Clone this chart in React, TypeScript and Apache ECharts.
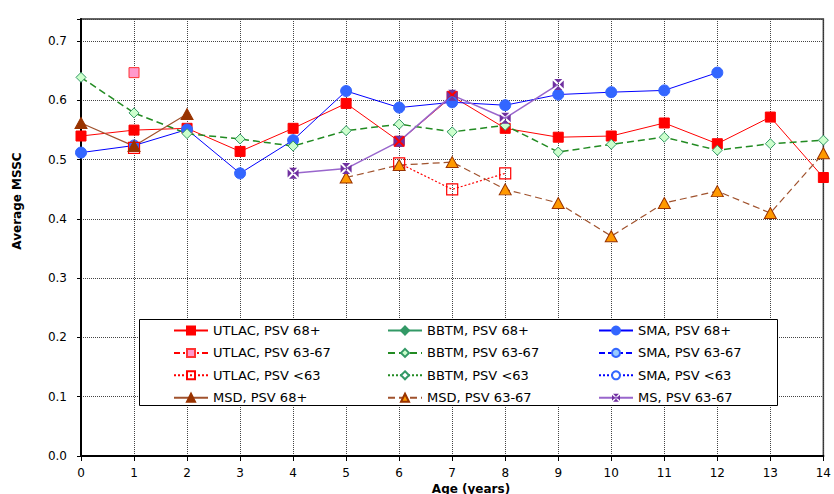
import React, { useEffect, useRef } from "react";
import * as echarts from "echarts";

const ages = [0, 1, 2, 3, 4, 5, 6, 7, 8, 9, 10, 11, 12, 13, 14];
const yTicks = ["0.0", "0.1", "0.2", "0.3", "0.4", "0.5", "0.6", "0.7"];

const utlac68 = [0.540, 0.550, 0.553, 0.514, 0.553, 0.595, 0.531, 0.607, 0.553, 0.538, 0.540, 0.562, 0.527, 0.572, 0.470];
const utlac6367 = [null, 0.647, null, null, null, null, null, null, null, null, null, null, null, null, null];
const utlacLt63 = [null, 0.520, null, null, null, null, 0.494, 0.450, 0.477, null, null, null, null, null, null];
const bbtm68: (number | null)[] = [];
const bbtm6367 = [0.639, 0.579, 0.544, 0.535, 0.523, 0.549, 0.560, 0.547, 0.558, 0.513, 0.526, 0.538, 0.516, 0.527, 0.533];
const bbtmLt63: (number | null)[] = [];
const sma68 = [0.512, 0.524, 0.551, 0.477, 0.533, 0.616, 0.588, 0.597, 0.592, 0.610, 0.614, 0.617, 0.647, null, null];
const sma6367: (number | null)[] = [];
const smaLt63: (number | null)[] = [];
const msd68 = [0.562, 0.523, 0.577, null, null, null, null, null, null, null, null, null, null, null, null];
const msd6367 = [null, null, null, null, null, 0.470, 0.491, 0.496, 0.450, 0.427, 0.371, 0.427, 0.447, 0.410, 0.511];
const ms6367 = [null, null, null, null, 0.477, 0.485, 0.531, 0.609, 0.570, 0.627, null, null, null, null, null];

const FONT = "DejaVu Sans";
const X_SQUARE = "path://M1.3,0L8.7,0L5,3.7Z M10,1.3L10,8.7L6.3,5Z M8.7,10L1.3,10L5,6.3Z M0,8.7L0,1.3L3.7,5Z";

function pairs(vals: (number | null)[]) {
  return ages.map((a, i) => [a, vals[i] === undefined ? null : vals[i]]);
}

function mk(
  name: string,
  vals: (number | null)[],
  symbol: string,
  size: number | number[],
  lineColor: string,
  lineType: any,
  lineWidth: number,
  fill: string,
  border: string,
  borderWidth = 1
) {
  return {
    name,
    type: "line",
    data: pairs(vals),
    symbol,
    symbolSize: size,
    showAllSymbol: true,
    connectNulls: false,
    lineStyle: { color: lineColor, type: lineType, width: lineWidth },
    itemStyle: { color: fill, borderColor: border, borderWidth },
    emphasis: { disabled: true },
  };
}

export default function App() {
  const ref = useRef<HTMLDivElement>(null);
  useEffect(() => {
    if (!ref.current) return;
    const chart = echarts.init(ref.current, null, { renderer: "svg" });
    const series = [
      mk("UTLAC, PSV 68+", utlac68, "rect", 10, "#FF0000", "solid", 1, "#FF0000", "#FF0000"),
      mk("BBTM, PSV 68+", bbtm68, "diamond", 10, "#339966", "solid", 1.5, "#339966", "#339966"),
      mk("SMA, PSV 68+", sma68, "circle", 11, "#0000FF", "solid", 1, "#3366FF", "#3366FF"),
      mk("UTLAC, PSV 63-67", utlac6367, "rect", 10, "#FF0000", [6, 3, 2, 3], 1, "#FF99CC", "#FF3333"),
      mk("BBTM, PSV 63-67", bbtm6367, "diamond", 10, "#228B22", [7, 4], 1.5, "#CCFFCC", "#339966"),
      mk("SMA, PSV 63-67", sma6367, "circle", 11, "#0000FF", [6, 3], 1, "#99CCFF", "#3366FF"),
      mk("UTLAC, PSV <63", utlacLt63, "rect", 11, "#FF0000", [2, 2], 1.2, "rgba(255,255,255,0)", "#FF0000", 1.2),
      mk("BBTM, PSV <63", bbtmLt63, "diamond", 9, "#228B22", [2, 2], 1, "#FFFFFF", "#339966"),
      mk("SMA, PSV <63", smaLt63, "circle", 9, "#0000FF", [2, 2], 1, "#FFFFFF", "#3366FF"),
      mk("MSD, PSV 68+", msd68, "triangle", [12, 11], "#A0522D", "solid", 1.2, "#993300", "#993300"),
      mk("MSD, PSV 63-67", msd6367, "triangle", [12, 11], "#A0522D", [7, 4], 1.2, "#FF9900", "#993300"),
      mk("MS, PSV 63-67", ms6367, X_SQUARE, 11, "#9966CC", "solid", 1.5, "#7030A0", "#7030A0", 0),
    ];
    const col = (i: number) => series.filter((_, k) => k % 3 === i).map((s) => s.name);
    const legendBase = {
      orient: "vertical",
      top: 319,
      itemWidth: 34,
      itemHeight: 10,
      itemGap: 9.4,
      textStyle: { fontFamily: FONT, fontSize: 13, color: "#000" },
      selectedMode: false,
      z: 6,
    };
    chart.setOption({
      animation: false,
      backgroundColor: "#fff",
      textStyle: { fontFamily: FONT },
      grid: {
        left: 81,
        right: 6,
        top: 19,
        bottom: 38,
        show: true,
        borderColor: "#333",
        borderWidth: 1.5,
        backgroundColor: "transparent",
      },
      legend: [
        { ...legendBase, left: 168, data: col(0) },
        { ...legendBase, left: 382, data: col(1) },
        { ...legendBase, left: 593, data: col(2) },
      ],
      xAxis: {
        type: "value",
        min: 0,
        max: 14,
        interval: 1,
        axisLine: { show: true, onZero: false, lineStyle: { color: "#000", width: 2 } },
        axisTick: { show: true, length: 5, lineStyle: { color: "#000" } },
        axisLabel: { margin: 11, fontSize: 12, color: "#000", fontFamily: FONT, showMaxLabel: true },
        splitLine: { show: true, lineStyle: { color: "#444", type: [1, 1], width: 1 } },
      },
      yAxis: {
        type: "value",
        min: 0,
        max: 0.7375,
        interval: 0.1,
        axisLine: { show: true, lineStyle: { color: "#000", width: 2 } },
        axisTick: { show: true, length: 4, lineStyle: { color: "#000" } },
        axisLabel: {
          margin: 14,
          fontSize: 12,
          color: "#000",
          fontFamily: FONT,
          formatter: (v: number) => {
            const i = Math.round(v * 10);
            return Math.abs(v * 10 - i) < 1e-6 && i < yTicks.length ? yTicks[i] : "";
          },
        },
        splitLine: { show: true, lineStyle: { color: "#444", type: [1, 1], width: 1 } },
      },
      graphic: [
        {
          type: "rect",
          z: 5,
          shape: { x: 139.5, y: 319.5, width: 638, height: 86 },
          style: { fill: "#fff", stroke: "#000", lineWidth: 1 },
        },
        {
          type: "text",
          z: 6,
          x: 17,
          y: 201,
          rotation: Math.PI / 2,
          style: {
            text: "Average MSSC",
            font: `bold 12px "${FONT}"`,
            fill: "#000",
            align: "center",
            verticalAlign: "middle",
          },
        },
        {
          type: "text",
          z: 6,
          x: 471,
          y: 488.5,
          style: {
            text: "Age (years)",
            font: `bold 12px "${FONT}"`,
            fill: "#000",
            align: "center",
            verticalAlign: "middle",
          },
        },
      ],
      series,
    });
    return () => chart.dispose();
  }, []);
  return <div ref={ref} style={{ width: 834, height: 494, position: "absolute", left: 0, top: 0 }} />;
}
